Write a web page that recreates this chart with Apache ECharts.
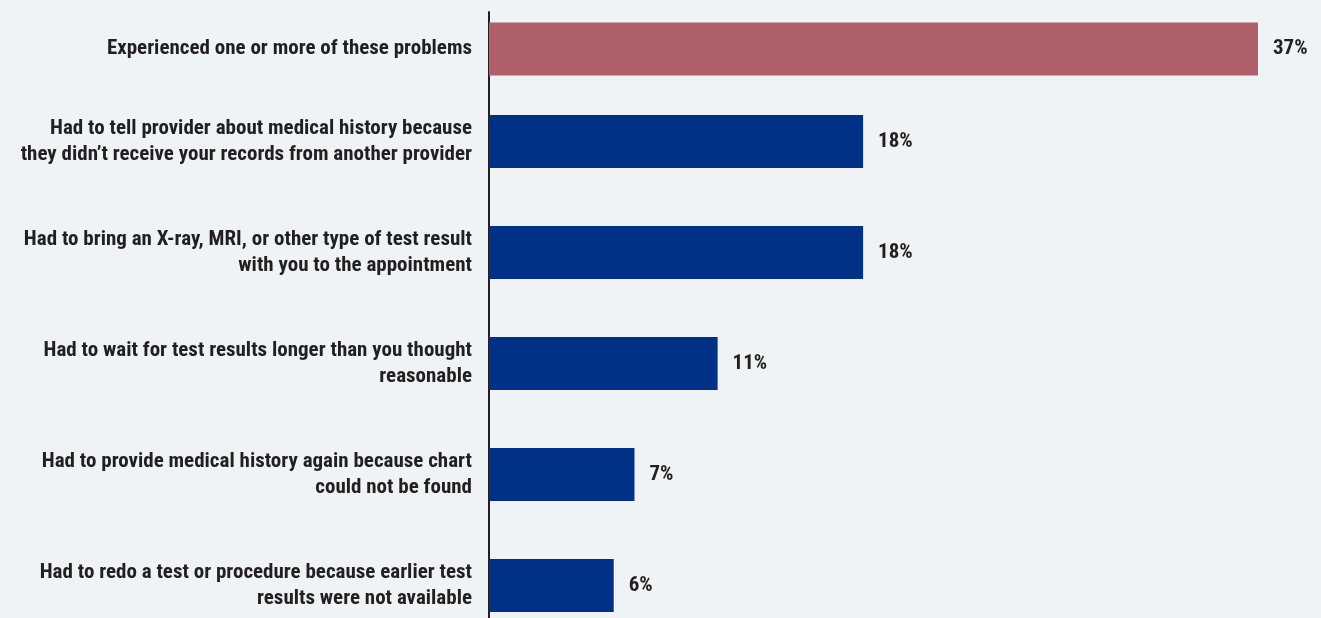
<!DOCTYPE html>
<html>
<head>
<meta charset="utf-8">
<script src="https://cdn.jsdelivr.net/npm/echarts@6/dist/echarts.min.js"></script>
<style>
  html, body { margin: 0; padding: 0; background: #f0f3f5; overflow: hidden; }
  #chart { width: 1321px; height: 660px; }
</style>
</head>
<body>
<div id="chart"></div>
<script>
// Data
const topCategory = ['Experienced one or more of these problems'];
const topValues = [37];
const categories = [
  'Had to tell provider about medical history because\nthey didn\u2019t receive your records from another provider',
  'Had to bring an X-ray, MRI, or other type of test result\nwith you to the appointment',
  'Had to wait for test results longer than you thought\nreasonable',
  'Had to provide medical history again because chart\ncould not be found',
  'Had to redo a test or procedure because earlier test\nresults were not available'
];
const values = [18, 18, 11, 7, 6];

const FONT = '"Liberation Sans Narrow", "Arial Narrow", "Roboto Condensed", "Liberation Sans", sans-serif';
const TEXT = '#231f20';

const chart = echarts.init(document.getElementById('chart'));

function yAxisCfg(gridIndex, data) {
  return {
    type: 'category',
    gridIndex: gridIndex,
    data: data,
    inverse: true,
    axisTick: { show: false },
    axisLine: { show: true, lineStyle: { color: TEXT, width: 2 } },
    axisLabel: {
      fontFamily: FONT,
      fontWeight: 'bold',
      fontSize: 21,
      lineHeight: 26,
      color: TEXT,
      align: 'right',
      margin: 17
    }
  };
}
function xAxisCfg(gridIndex) {
  return {
    type: 'value',
    gridIndex: gridIndex,
    min: 0,
    max: 37,
    show: false,
    splitLine: { show: false }
  };
}
function labelCfg() {
  return {
    show: true,
    position: 'right',
    distance: 15,
    formatter: '{c}%',
    fontFamily: FONT,
    fontWeight: 'bold',
    fontSize: 21,
    color: TEXT
  };
}

chart.setOption({
  backgroundColor: '#f0f3f5',
  animation: false,
  grid: [
    { left: 489, right: 63, top: 12, height: 74 },
    { left: 489, right: 63, top: 86, height: 555 }
  ],
  xAxis: [xAxisCfg(0), xAxisCfg(1)],
  yAxis: [yAxisCfg(0, topCategory), yAxisCfg(1, categories)],
  series: [
    {
      type: 'bar',
      xAxisIndex: 0,
      yAxisIndex: 0,
      data: topValues,
      barWidth: 53,
      itemStyle: { color: '#ae5f69' },
      label: labelCfg()
    },
    {
      type: 'bar',
      xAxisIndex: 1,
      yAxisIndex: 1,
      data: values,
      barWidth: 53,
      itemStyle: { color: '#003186' },
      label: labelCfg()
    }
  ]
});
</script>
</body>
</html>
